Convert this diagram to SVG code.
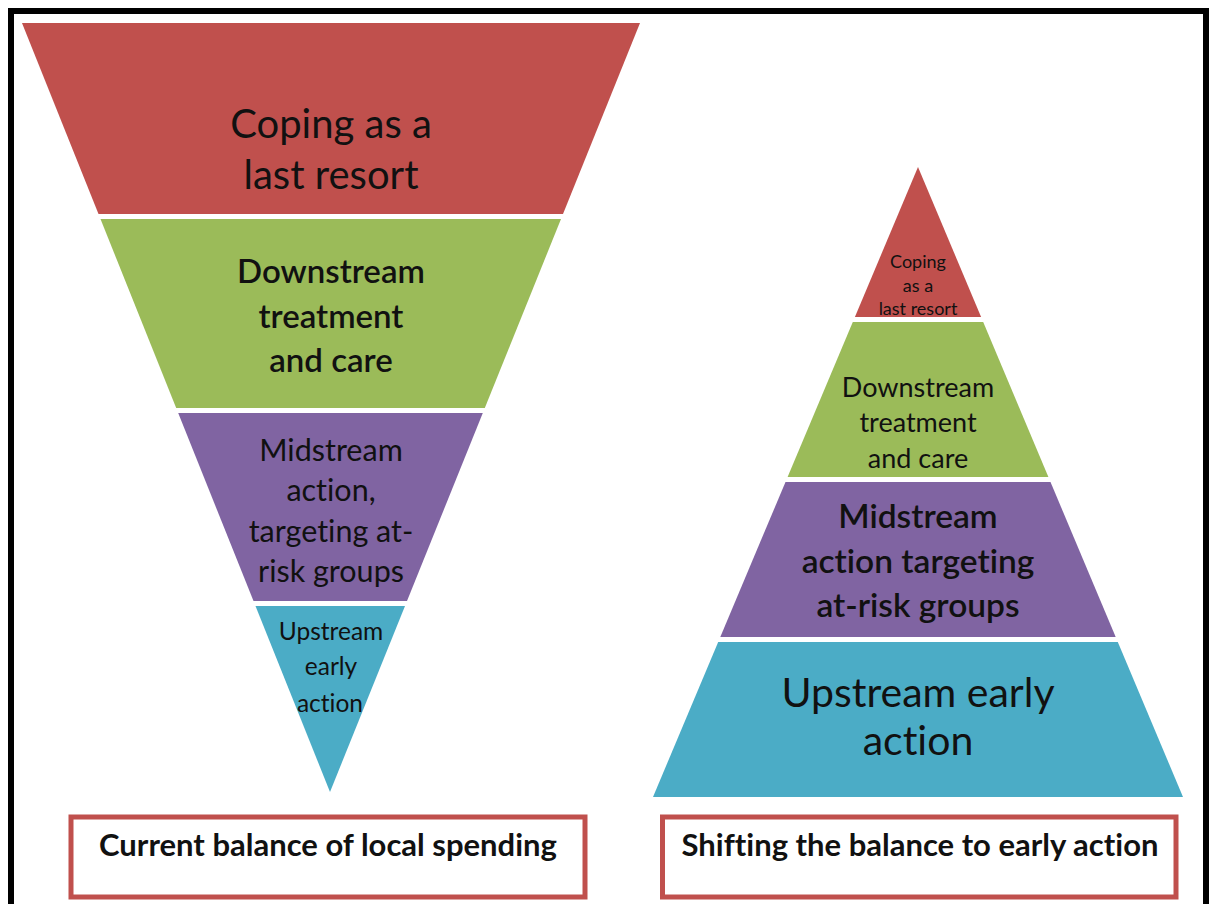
<svg xmlns="http://www.w3.org/2000/svg" width="1210" height="904" viewBox="0 0 1210 904">
  <style>
    .lbl { font-family: Lato, "Open Sans", "Liberation Sans", sans-serif; fill: #111111; text-anchor: middle; font-variant-ligatures: none; font-feature-settings: "liga" 0, "clig" 0, "dlig" 0; }
    .semi { font-weight: 600; }
    .bold { font-weight: 700; }
    .red { fill: #C0504D; }
    .green { fill: #9BBB59; }
    .purple { fill: #8064A2; }
    .teal { fill: #4BACC6; }
    .caption { fill: #FFFFFF; stroke: #C0504D; stroke-width: 5; }
  </style>

  <!-- page frame -->
  <rect x="0" y="0" width="1210" height="904" fill="#FFFFFF"/>
  <rect x="11" y="11" width="1195" height="920" fill="none" stroke="#000000" stroke-width="6"/>

  <!-- inverted triangle: current balance -->
  <g id="current-coping">
    <polygon class="red" points="22,23 640,23 563,214 98.5,214"/>
    <text class="lbl" font-size="40" x="331" y="138">Coping as a</text>
    <text class="lbl" font-size="40" x="331" y="189">last resort</text>
  </g>
  <g id="current-downstream">
    <polygon class="green" points="100.5,219 561,219 484.8,408 176.2,408"/>
    <text class="lbl semi" font-size="33" x="331" y="283">Downstream</text>
    <text class="lbl semi" font-size="33" x="331" y="328">treatment</text>
    <text class="lbl semi" font-size="33" x="331" y="372">and care</text>
  </g>
  <g id="current-midstream">
    <polygon class="purple" points="178.2,413 482.8,413 407,601 253.5,601"/>
    <text class="lbl" font-size="30.5" x="331" y="461">Midstream</text>
    <text class="lbl" font-size="30.5" x="331" y="501">action,</text>
    <text class="lbl" font-size="30.5" x="331" y="542">targeting at-</text>
    <text class="lbl" font-size="30.5" x="331" y="582">risk groups</text>
  </g>
  <g id="current-upstream">
    <polygon class="teal" points="255.5,606 405,606 330,792"/>
    <text class="lbl" font-size="24.5" x="331" y="640">Upstream</text>
    <text class="lbl" font-size="24.5" x="331" y="675">early</text>
    <text class="lbl" font-size="24.5" x="330" y="712">action</text>
  </g>

  <!-- upright pyramid: shifted balance -->
  <g id="shift-coping">
    <polygon class="red" points="918,167 981.1,317 854.9,317"/>
    <text class="lbl" font-size="18" x="918" y="268">Coping</text>
    <text class="lbl" font-size="18" x="918" y="292">as a</text>
    <text class="lbl" font-size="18" x="918" y="315">last resort</text>
  </g>
  <g id="shift-downstream">
    <polygon class="green" points="852.8,322 983.2,322 1048.4,477 787.6,477"/>
    <text class="lbl" font-size="27" x="918" y="397">Downstream</text>
    <text class="lbl" font-size="27" x="918" y="432">treatment</text>
    <text class="lbl" font-size="27" x="918" y="468">and care</text>
  </g>
  <g id="shift-midstream">
    <polygon class="purple" points="785.5,482 1050.5,482 1115.7,637 720.3,637"/>
    <text class="lbl semi" font-size="33.5" x="918" y="528">Midstream</text>
    <text class="lbl semi" font-size="33.5" x="918" y="573">action targeting</text>
    <text class="lbl semi" font-size="33.5" x="918" y="617">at-risk groups</text>
  </g>
  <g id="shift-upstream">
    <polygon class="teal" points="718.2,642 1117.8,642 1183,797 653,797"/>
    <text class="lbl" font-size="41" x="918" y="707">Upstream early</text>
    <text class="lbl" font-size="41" x="918" y="755">action</text>
  </g>

  <!-- captions -->
  <g id="caption-current">
    <rect class="caption" x="71" y="817" width="514" height="80"/>
    <text class="lbl bold" font-size="31" x="328" y="856">Current balance of local spending</text>
  </g>
  <g id="caption-shift">
    <rect class="caption" x="662.5" y="817" width="513.5" height="80"/>
    <text class="lbl bold" font-size="31" x="920" y="856">Shifting the balance to early action</text>
  </g>

  <!-- no connectors in this figure -->
  <g id="connectors"/>
</svg>
